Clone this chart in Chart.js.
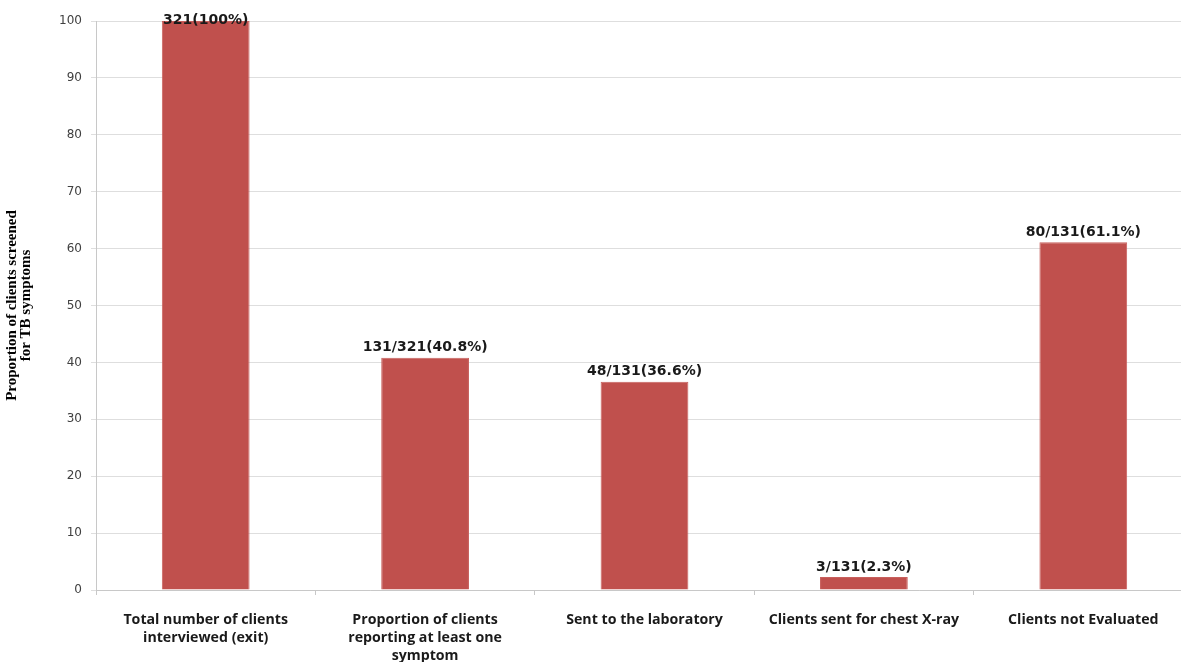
<!DOCTYPE html>
<html>
<head>
<meta charset="utf-8">
<script src="https://cdn.jsdelivr.net/npm/chart.js@4"></script>
<style>
  html, body { margin: 0; padding: 0; background: #fff; overflow: hidden; }
  #wrap { width: 1193px; height: 662px; }
</style>
</head>
<body>
<div id="wrap"><canvas id="myChart" width="1193" height="662"></canvas></div>
<script>
// x-axis categories (wrapped into lines)
const categories = [
  ["Total number of clients", "interviewed (exit)"],
  ["Proportion of clients", "reporting at least one", "symptom"],
  ["Sent to the laboratory"],
  ["Clients sent for chest X-ray"],
  ["Clients not Evaluated"],
];
// percentages
const percents = [100, 40.8, 36.6, 2.3, 61.1];
// counts shown on top of bars
const counts = ["321", "131/321", "48/131", "3/131", "80/131"];
const yTicks = [0, 10, 20, 30, 40, 50, 60, 70, 80, 90, 100];

// writes "count(percent%)" above each bar
const barLabels = {
  id: "barLabels",
  afterDatasetsDraw(chart) {
    const c = chart.ctx;
    const meta = chart.getDatasetMeta(0);
    c.save();
    c.font = "bold 14px 'DejaVu Sans'";
    c.fillStyle = "#1a1a1a";
    c.textAlign = "center";
    c.textBaseline = "bottom";
    meta.data.forEach((bar, i) => {
      const txt = counts[i] + "(" + percents[i] + "%)";
      c.fillText(txt, bar.x, Math.max(bar.y - 3, 27));
    });
    c.restore();
  },
};

const ctx = document.getElementById("myChart").getContext("2d");
const tbChart = new Chart(ctx, {
  type: "bar",
  data: {
    labels: categories,
    datasets: [
      {
        data: percents,
        backgroundColor: "#C0504D",
        borderColor: "#c8605d",
        borderWidth: 1,
        barPercentage: 0.4,
        categoryPercentage: 1.0,
      },
    ],
  },
  options: {
    responsive: false,
    animation: false,
    layout: { padding: { top: 21, left: 0, right: 0, bottom: 0 } },
    plugins: {
      legend: { display: false },
      tooltip: { enabled: false },
    },
    scales: {
      x: {
        grid: {
          offset: true,
          drawOnChartArea: false,
          color: "#c8c8c8",
          tickLength: 5,
        },
        border: { color: "#c8c8c8" },
        ticks: {
          color: "#1a1a1a",
          font: { family: "'Open Sans'", size: 14.2, weight: "bold", lineHeight: 1.27 },
          padding: 16,
          maxRotation: 0,
          autoSkip: false,
        },
        afterFit(scale) { scale.height = 72; },
      },
      y: {
        min: 0,
        max: 100,
        afterBuildTicks(scale) { scale.ticks = yTicks.map(v => ({ value: v })); },
        grid: { color: "#dedede", tickLength: 5 },
        border: { color: "#c8c8c8" },
        ticks: {
          color: "#404040",
          font: { family: "'DejaVu Sans'", size: 12 },
          padding: 9,
        },
        title: {
          display: true,
          text: ["Proportion of clients screened", "for TB symptoms"],
          color: "#000",
          font: { family: "'Liberation Serif'", size: 15, weight: "bold", lineHeight: 0.95 },
          padding: { top: 5, bottom: 8 },
        },
        afterFit(scale) { scale.width = 96; },
      },
    },
  },
  plugins: [barLabels],
});
</script>
</body>
</html>
